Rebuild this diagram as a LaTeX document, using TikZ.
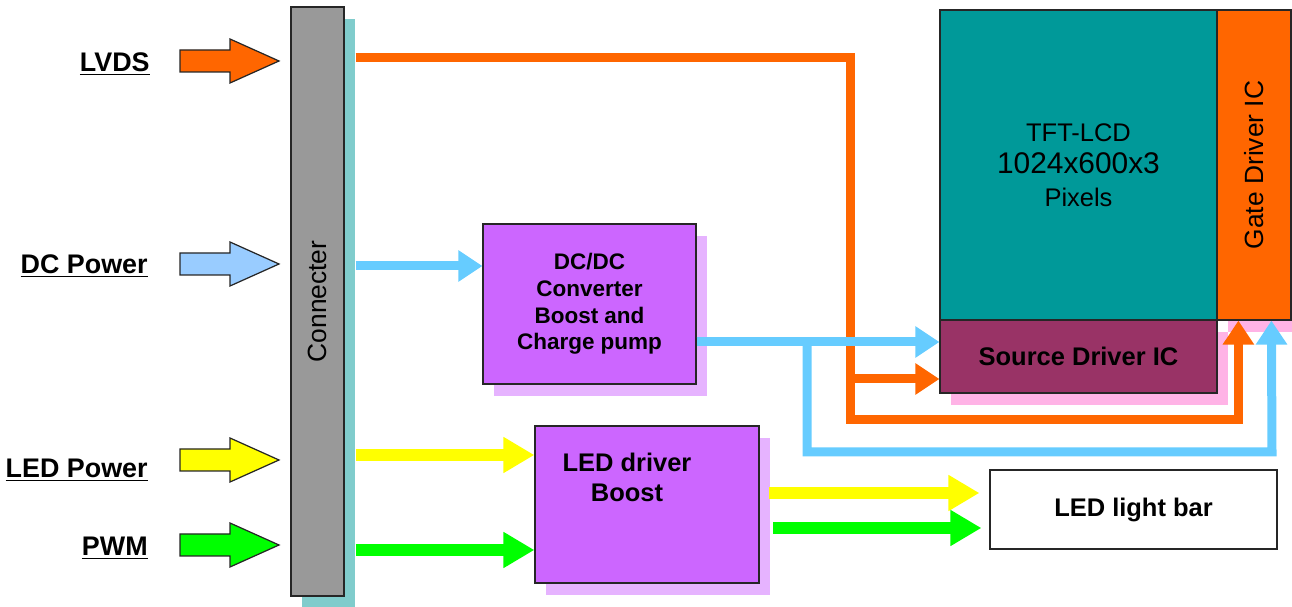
\documentclass[tikz,border=0pt]{standalone}
\usepackage{fontspec}
\setmainfont{Liberation Sans}
\usetikzlibrary{arrows.meta,shadows}

\definecolor{orng}{HTML}{FF6600}
\definecolor{skyb}{HTML}{66CCFF}
\definecolor{paleb}{HTML}{99CCFF}
\definecolor{yelw}{HTML}{FFFF00}
\definecolor{grn}{HTML}{00FF00}
\definecolor{conngray}{HTML}{999999}
\definecolor{connshd}{HTML}{80CCCC}
\definecolor{violet1}{HTML}{CC66FF}
\definecolor{violetshd}{HTML}{E6B3FF}
\definecolor{tealc}{HTML}{009999}
\definecolor{srcc}{HTML}{993366}
\definecolor{pinkshd}{HTML}{FFB3E6}

\tikzset{
  blk/.style={draw=black!85, line width=0.7pt, inner sep=0pt, font=\fontsize{14.5}{17}\selectfont},
  shd/.style={drop shadow={shadow xshift=0.22cm, shadow yshift=-0.24cm, fill=#1, opacity=1}},
  flow/.style={line width=0.18cm, -{Triangle[length=0.48cm, width=0.6cm]}},
  wide/.style={line width=0.24cm, -{Triangle[length=0.62cm, width=0.68cm]}},
  lbl/.style={font=\bfseries\fontsize{15.3}{17}\selectfont, anchor=east, inner sep=0pt},
  bold/.style={font=\bfseries\fontsize{14.5}{17}\selectfont},
}

\begin{document}
\begin{tikzpicture}[x=0.02cm, y=-0.02cm]
\useasboundingbox (0,0) rectangle (1292,607);

% connector and inputs
\node[blk, fill=conngray, shd=connshd, minimum width=1.06cm, minimum height=11.78cm,
      font=\fontsize{15}{17}\selectfont] (conn) at (317.5,301.5) {\rotatebox{90}{Connecter}};
\coordinate (cedge) at ([xshift=0.22cm]conn.east);

\foreach \y/\c in {61/orng, 264/paleb, 460/yelw, 545/grn} {
    \draw[draw=black!85, line width=0.7pt, fill=\c] (180,\y-11) -- (230,\y-11) -- (230,\y-22)
        -- (279,\y) -- (230,\y+22) -- (230,\y+11) -- (180,\y+11) -- cycle;
}
\node[lbl] (lvds) at (150,64) {\underline{LVDS}};
\node[lbl] (dcin) at (148,266) {\underline{DC Power}};
\node[lbl] (ledin) at (148,470) {\underline{LED Power}};
\node[lbl] (pwm) at (148,548) {\underline{PWM}};

% blocks
\node[blk, fill=violet1, shd=violetshd, minimum width=4.26cm, minimum height=3.2cm, align=center,
      font=\bfseries\fontsize{12.8}{15.2}\selectfont] (dcdc) at (589.5,304) {DC/DC\\Converter\\Boost and\\Charge pump};
\node[blk, fill=violet1, shd=violetshd, minimum width=4.48cm, minimum height=3.14cm] (leddrv) at (647,504.5) {};
\node[bold, align=center] (ledtxt) at (627,477) {LED driver\\Boost};

\node[blk, fill=srcc, shd=pinkshd, minimum width=5.54cm, minimum height=1.46cm, bold] (src) at (1078.5,356.5) {Source Driver IC};
\node[blk, fill=tealc, minimum width=5.54cm, minimum height=6.2cm, align=center,
      font=\fontsize{14.5}{18.5}\selectfont] (lcd) at (1078.5,165)
      {TFT-LCD\\{\fontsize{17}{18.5}\selectfont 1024x600x3}\\Pixels};
\node[blk, fill=orng, shd=pinkshd, minimum width=1.48cm, minimum height=6.2cm,
      font=\fontsize{15}{17}\selectfont] (gate) at (1254,165) {\rotatebox{90}{Gate Driver IC}};
\node[blk, fill=white, minimum width=5.74cm, minimum height=1.58cm, bold] (bar) at (1133.5,509.5) {LED light bar};

% signal lines
\coordinate (ojoin) at (850,379);
\coordinate (bjoin) at (807,342);
\draw[flow, orng] (cedge |- 0,58) -| (850,420) -| ([xshift=0.44cm]gate.south west);
\draw[flow, orng] (ojoin) -- (src.west |- ojoin);
\draw[flow, skyb] (cedge |- 0,266) -- (dcdc.west |- 0,266);
\draw[flow, skyb] (dcdc.east |- bjoin) -- (src.west |- bjoin);
\draw[flow, skyb] (bjoin) |- (1272,452) -- ([xshift=1.1cm]gate.south west);
\draw[wide, yelw] (cedge |- 0,455) -- (leddrv.west |- 0,455);
\draw[wide, grn] (cedge |- 0,550) -- (leddrv.west |- 0,550);
\draw[wide, yelw] (769,493) -- ([xshift=-0.2cm]bar.west |- 0,493);
\draw[wide, grn] (773,528) -- ([xshift=-0.16cm]bar.west |- 0,528);
\end{tikzpicture}
\end{document}
